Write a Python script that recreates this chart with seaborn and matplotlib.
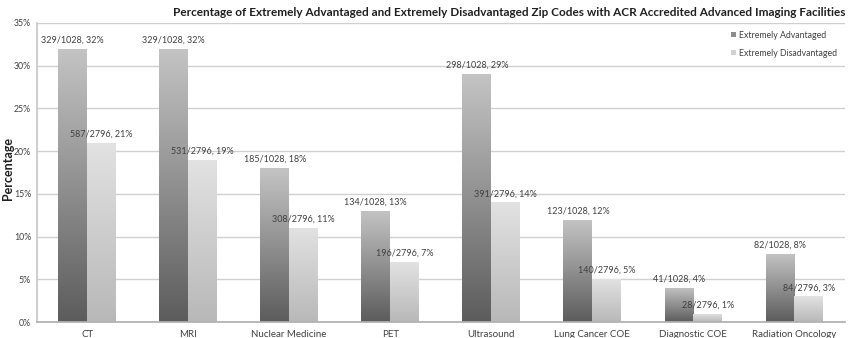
import numpy as np
import pandas as pd
import matplotlib
matplotlib.use("Agg")
import matplotlib.pyplot as plt
import seaborn as sns
from matplotlib.colors import LinearSegmentedColormap

categories = ["CT", "MRI", "Nuclear Medicine", "PET", "Ultrasound",
              "Lung Cancer COE", "Diagnostic COE", "Radiation Oncology"]
adv_counts = [329, 329, 185, 134, 298, 123, 41, 82]
adv_total = 1028
adv_pct = [32, 32, 18, 13, 29, 12, 4, 8]
dis_counts = [587, 531, 308, 196, 391, 140, 28, 84]
dis_total = 2796
dis_pct = [21, 19, 11, 7, 14, 5, 1, 3]
series = ["Extremely Advantaged", "Extremely Disadvantaged"]
yticks = [0, 5, 10, 15, 20, 25, 30, 35]

df = pd.DataFrame({
    "Category": categories * 2,
    "Group": [series[0]] * len(categories) + [series[1]] * len(categories),
    "Pct": adv_pct + dis_pct,
    "Label": [f"{n}/{adv_total}, {p}%" for n, p in zip(adv_counts, adv_pct)]
             + [f"{n}/{dis_total}, {p}%" for n, p in zip(dis_counts, dis_pct)],
})

sns.set_theme(style="white")
plt.rcParams["font.family"] = ["Lato", "DejaVu Sans"]

fig = plt.figure(figsize=(8.5, 3.38), dpi=100)
ax = fig.add_axes([0.043, 0.047, 0.951, 0.885])

palette = {series[0]: "#8c8c8c", series[1]: "#d2d2d2"}
sns.barplot(data=df, x="Category", y="Pct", hue="Group", palette=palette,
            width=0.57, gap=0, ax=ax, saturation=1, edgecolor="none", zorder=2)

ax.set_xlim(-0.5, len(categories) - 0.5)
ax.set_ylim(0, 35)
ax.set_yticks(yticks)
ax.set_yticklabels([f"{t}%" for t in yticks], fontsize=6.3, color="#404040")
ax.tick_params(axis="x", labelsize=7, colors="#404040", length=0, pad=6)
ax.tick_params(axis="y", length=0, pad=4)
ax.yaxis.grid(True, color="#d0d0d0", linewidth=1)
ax.set_axisbelow(True)
for s in ["top", "right"]:
    ax.spines[s].set_visible(False)
ax.spines["left"].set_color("#c8c8c8")
ax.spines["bottom"].set_color("#b0b0b0")
ax.set_xlabel("")
ax.set_ylabel("")
fig.text(0.009, 0.5, "Percentage", rotation=90, ha="center", va="center",
         fontsize=9, fontweight="bold", color="#202020")

cmaps = [LinearSegmentedColormap.from_list("a", ["#5c5c5c", "#c4c4c4"]),
         LinearSegmentedColormap.from_list("d", ["#b8b8b8", "#e2e2e2"])]
grad = np.linspace(0, 1, 256).reshape(-1, 1)
bars = [p for p in ax.patches if p.get_height() > 0]
n = len(categories)
for i, bar in enumerate(bars):
    x0 = bar.get_x(); w = bar.get_width(); h = bar.get_height()
    cm = cmaps[0] if i < n else cmaps[1]
    im = ax.imshow(grad, extent=[x0, x0 + w, 0, h], origin="lower",
                   aspect="auto", cmap=cm, zorder=2.5)
    im.set_clip_path(bar)
    lab = df["Label"].iloc[i]
    ax.text(x0 + w / 2, h + 0.5, lab, ha="center", va="bottom",
            fontsize=6.5, color="#404040", zorder=4)
ax.set_xlim(-0.5, len(categories) - 0.5)
ax.set_ylim(0, 35)

leg = ax.legend(loc="upper right", bbox_to_anchor=(1.0, 1.0), frameon=False,
                fontsize=6.3, handlelength=0.5, handleheight=0.5,
                handletextpad=0.4, labelspacing=1.0)
leg.set_title(None)
for t in leg.get_texts():
    t.set_color("#404040")

fig.text(0.995, 0.98, "Percentage of Extremely Advantaged and Extremely Disadvantaged Zip Codes with ACR Accredited Advanced Imaging Facilities",
         ha="right", va="top", fontsize=8.5,
         fontweight="bold", color="#202020")

fig.savefig("out.png", dpi=100)
